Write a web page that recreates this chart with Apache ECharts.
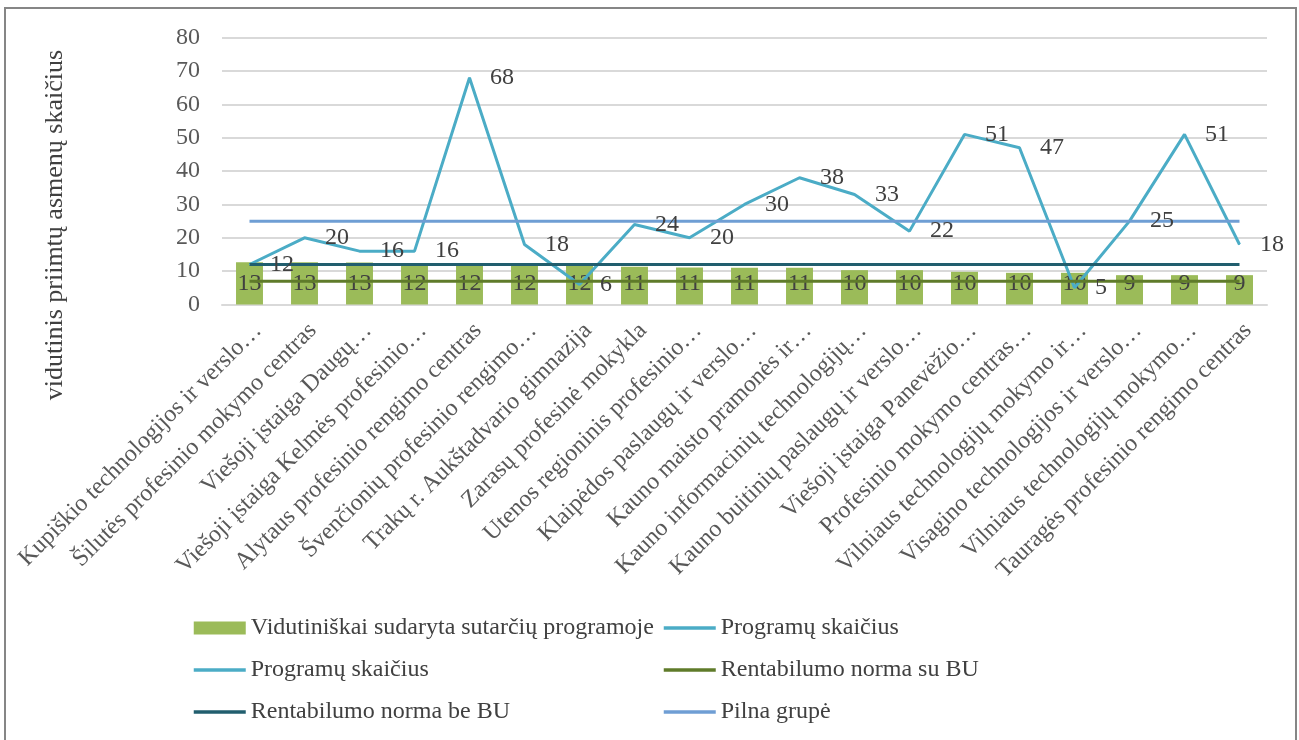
<!DOCTYPE html>
<html>
<head>
<meta charset="utf-8">
<script src="https://cdn.jsdelivr.net/npm/echarts@6/dist/echarts.min.js"></script>
<style>
  html, body { margin: 0; padding: 0; background: #fff; }
  #main { width: 1299px; height: 740px; }
</style>
</head>
<body>
<div id="main"></div>
<script>
// kategorijos (sutrumpinti pavadinimai kaip paveiksle)
const categories = [
  'Kupiškio technologijos ir verslo…',
  'Šilutės profesinio mokymo centras',
  'Viešoji įstaiga Daugų…',
  'Viešoji įstaiga Kelmės profesinio…',
  'Alytaus profesinio rengimo centras',
  'Švenčionių profesinio rengimo…',
  'Trakų r. Aukštadvario gimnazija',
  'Zarasų profesinė mokykla',
  'Utenos regioninis profesinio…',
  'Klaipėdos paslaugų ir verslo…',
  'Kauno maisto pramonės ir…',
  'Kauno informacinių technologijų…',
  'Kauno buitinių paslaugų ir verslo…',
  'Viešoji įstaiga Panevėžio…',
  'Profesinio mokymo centras…',
  'Vilniaus technologijų mokymo ir…',
  'Visagino technologijos ir verslo…',
  'Vilniaus technologijų mokymo…',
  'Tauragės profesinio rengimo centras'
]
// vidutiniškai sudaryta sutarčių programoje
const avgContracts = [12.7, 12.7, 12.6, 12.1, 12.0, 12.0, 11.9, 11.3, 11.1, 11.0, 11.0, 10.3, 10.3, 9.8, 9.5, 9.5, 8.8, 8.8, 8.8]
// programų skaičius
const programCount = [12, 20, 16, 16, 68, 18, 6, 24, 20, 30, 38, 33, 22, 51, 47, 5, 25, 51, 18]
// horizontalios linijos
const normWithBU = [7, 7, 7, 7, 7, 7, 7, 7, 7, 7, 7, 7, 7, 7, 7, 7, 7, 7, 7]
const normWithoutBU = [12, 12, 12, 12, 12, 12, 12, 12, 12, 12, 12, 12, 12, 12, 12, 12, 12, 12, 12]
const fullGroup = [25, 25, 25, 25, 25, 25, 25, 25, 25, 25, 25, 25, 25, 25, 25, 25, 25, 25, 25]
const yTicks = { min: 0, max: 80, interval: 10 }

const font = 'Liberation Serif'
const txt = '#404040'
const axisTxt = '#595959'

const myChart = echarts.init(document.getElementById('main'))

// linijų legendoje be taško
function lineItem(name) {
  return { name: name, itemStyle: { opacity: 0 }, lineStyle: { width: 3.5 } }
}
const barItem = { name: 'Vidutiniškai sudaryta sutarčių programoje', icon: 'rect' }

const legendCommon = {
  orient: 'vertical',
  itemWidth: 52,
  itemHeight: 13,
  itemGap: 18,
  textStyle: { fontFamily: font, fontSize: 24, color: txt },
  selectedMode: false
}

const option = {
  backgroundColor: '#fff',
  animation: false,
  graphic: [{
    type: 'rect',
    shape: { x: 5, y: 8, width: 1291, height: 740 },
    style: { fill: 'none', stroke: '#868686', lineWidth: 2 },
    silent: true
  }],
  legend: [
    Object.assign({ left: 187, top: 611, data: [barItem, lineItem('Programų skaičius'), lineItem('Rentabilumo norma be BU')] }, legendCommon),
    Object.assign({ left: 657, top: 611, data: [lineItem('Programų skaičius'), lineItem('Rentabilumo norma su BU'), lineItem('Pilna grupė')] }, legendCommon)
  ],
  grid: { left: 222, right: 32, top: 37.7, bottom: 435.5 },
  xAxis: {
    type: 'category',
    data: categories,
    axisTick: { show: false },
    axisLine: { lineStyle: { color: '#d9d9d9', width: 2 } },
    axisLabel: {
      interval: 0,
      rotate: 45,
      margin: 14,
      verticalAlign: 'top',
      fontFamily: font,
      fontSize: 24,
      color: axisTxt
    }
  },
  yAxis: {
    type: 'value',
    min: yTicks.min,
    max: yTicks.max,
    interval: yTicks.interval,
    name: 'vidutinis priimtų asmenų skaičius',
    nameLocation: 'middle',
    nameGap: 154,
    nameTextStyle: { fontFamily: font, fontSize: 26, color: txt, padding: [0, 108, 0, 0] },
    axisLine: { show: false },
    axisTick: { show: false },
    splitLine: { lineStyle: { color: '#d9d9d9', width: 2 } },
    axisLabel: { fontFamily: font, fontSize: 24, color: axisTxt, margin: 22 }
  },
  series: [
    {
      name: 'Vidutiniškai sudaryta sutarčių programoje',
      type: 'bar',
      data: avgContracts,
      barWidth: '49%',
      itemStyle: { color: '#9bbb59' },
      label: {
        show: true,
        position: 'insideBottom',
        distance: 9,
        fontFamily: font,
        fontSize: 24,
        color: txt,
        formatter: function (p) { return Math.round(p.value) }
      }
    },
    {
      name: 'Programų skaičius',
      type: 'line',
      data: programCount,
      symbol: 'circle',
      symbolSize: 1,
      showSymbol: true,
      lineStyle: { color: '#4bacc6', width: 3 },
      itemStyle: { color: '#4bacc6' },
      label: {
        show: true,
        position: 'right',
        distance: 20,
        fontFamily: font,
        fontSize: 24,
        color: txt
      }
    },
    {
      name: 'Rentabilumo norma su BU',
      type: 'line',
      data: normWithBU,
      symbol: 'none',
      lineStyle: { color: '#5f7b2a', width: 3 },
      itemStyle: { color: '#5f7b2a' }
    },
    {
      name: 'Rentabilumo norma be BU',
      type: 'line',
      data: normWithoutBU,
      symbol: 'none',
      lineStyle: { color: '#215e6e', width: 3 },
      itemStyle: { color: '#215e6e' }
    },
    {
      name: 'Pilna grupė',
      type: 'line',
      data: fullGroup,
      symbol: 'none',
      lineStyle: { color: '#6f9ed4', width: 3 },
      itemStyle: { color: '#6f9ed4' }
    }
  ]
}
myChart.setOption(option)
</script>
</body>
</html>
